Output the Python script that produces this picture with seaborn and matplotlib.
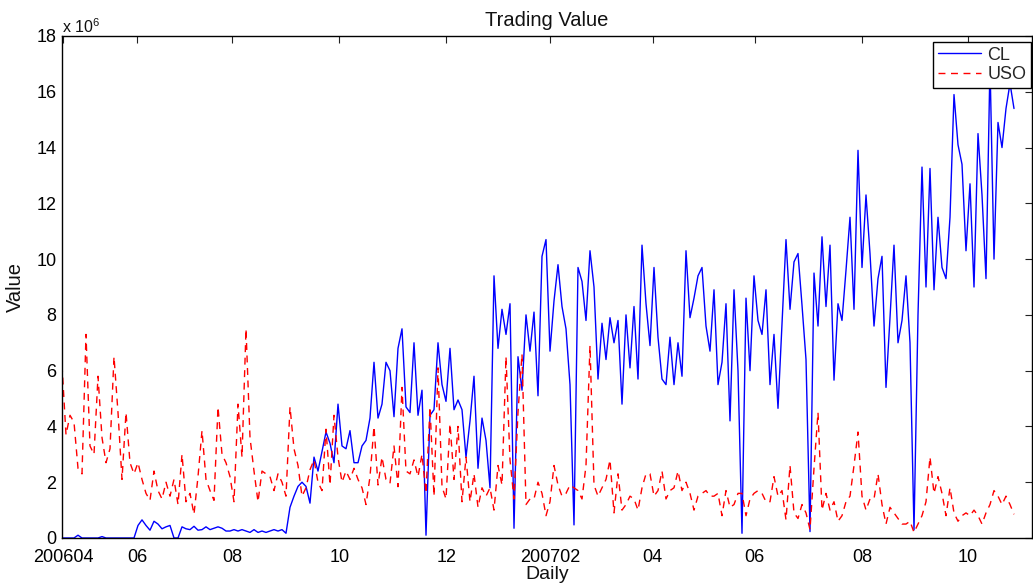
import numpy as np
import pandas as pd
import matplotlib
matplotlib.use("Agg")
import matplotlib.pyplot as plt
import seaborn as sns

# Trading value, in units of 10^6, one value per sampled trading day
cl_values = [
    0, 0, 0, 0, 0.1, 0, 0, 0, 0, 0, 0.05, 0, 0, 0, 0, 0, 0, 0, 0,
    0.45, 0.65, 0.45, 0.28, 0.6, 0.5, 0.33, 0.4, 0.45, 0.0, 0.0, 0.4, 0.33, 0.3, 0.42, 0.28, 0.3, 0.4, 0.3, 0.35, 0.4, 0.35,
    0.25, 0.25, 0.3, 0.25, 0.3, 0.25, 0.2, 0.3, 0.2, 0.25, 0.2, 0.25, 0.3, 0.25, 0.3, 0.17,
    1.1, 1.5, 1.85, 2.0, 1.85, 1.25, 2.9, 2.4, 3.1, 3.8, 3.4, 2.7, 4.8, 3.3, 3.2, 3.85, 2.7, 2.7, 3.3, 3.5, 4.3,
    6.3, 4.3, 4.8, 6.3, 6.0, 4.35, 6.8, 7.5, 4.7, 4.5, 7.0, 4.4, 5.3, 0.1, 4.4,
    4.6, 7.0, 5.5, 4.9, 6.8, 4.6, 4.95, 4.6, 2.9, 4.2, 5.8, 2.5, 4.3, 3.5, 1.8,
    9.4, 6.8, 8.2, 7.3, 8.4, 0.35, 6.5, 5.3, 8.0, 6.7, 8.1, 5.1, 10.1, 10.7, 6.7, 8.5, 9.8, 8.3, 7.5, 5.5, 0.47,
    9.7, 9.2, 7.8, 10.3, 9.0, 5.7, 7.7, 6.4, 7.9, 7.0, 7.8, 4.8, 8.0, 6.1, 8.3, 5.7, 10.5, 8.4, 6.9, 9.7, 7.2,
    5.7, 5.5, 7.2, 5.5, 7.0, 5.8, 10.3, 7.9, 8.6, 9.4, 9.7, 7.6, 6.7, 8.9, 5.5, 6.3,
    8.4, 4.2, 8.9, 6.0, 0.17, 8.6, 6.0, 9.4, 7.8, 7.3, 8.9, 5.5, 7.3, 4.65, 7.7, 10.7, 8.2, 9.9, 10.2, 8.35, 6.4, 0.23,
    9.5, 7.6, 10.8, 8.3, 10.5, 5.66, 8.4, 7.8, 9.6, 11.5, 8.2, 13.9, 9.7, 12.3, 10.2, 7.6, 9.3,
    10.1, 5.4, 7.9, 10.5, 7.0, 7.8, 9.4, 7.0, 0.29, 8.0, 13.3, 9.0, 13.25, 8.9, 11.5, 9.7, 9.3, 11.5, 15.9,
    14.1, 13.4, 10.3, 12.7, 9.0, 14.5, 12.3, 9.3, 17.0, 10.0, 14.9, 14.0, 15.4, 16.3, 15.4,
]

uso_values = [
    6.2, 3.7, 4.4, 4.15, 2.5, 2.3, 7.3, 3.3, 3.0, 5.8, 3.6, 2.7, 3.2, 6.5, 4.5, 2.1, 4.5, 2.7, 2.3, 2.7,
    2.1, 1.6, 1.35, 2.4, 1.7, 1.4, 2.0, 1.5, 2.1, 1.2, 3.0, 1.3, 1.6, 0.85, 2.2, 3.85, 2.1, 1.7, 1.35, 4.7, 3.0,
    2.7, 2.2, 1.3, 4.8, 2.9, 7.5, 3.6, 2.4, 1.3, 2.4, 2.3, 2.2, 1.7, 2.3, 2.0, 1.5, 4.7, 3.2, 2.6, 1.5,
    1.8, 2.45, 2.8, 2.0, 1.7, 3.9, 1.9, 4.4, 2.9, 2.0, 2.4, 2.1, 2.5, 2.1, 1.8, 1.2, 2.2, 4.0, 1.9, 2.9, 2.1,
    1.96, 3.3, 1.84, 5.4, 2.4, 2.3, 2.8, 2.2, 3.0, 1.6, 4.7, 1.5, 6.1, 1.84,
    1.4, 4.1, 2.1, 4.0, 1.3, 2.9, 1.3, 2.3, 1.1, 1.8, 1.5, 1.8, 1.0, 2.6, 1.9, 6.5, 2.8, 1.4, 4.5, 6.6,
    1.2, 1.4, 1.4, 2.0, 1.6, 0.8, 1.3, 2.6, 1.9,
    1.5, 1.6, 1.9, 1.8, 1.7, 1.4, 2.6, 6.9, 1.9, 1.5, 1.8, 2.1, 2.8, 0.9, 2.3, 1.0, 1.2, 1.5, 1.4, 1.0,
    1.8, 2.3, 2.3, 1.5, 1.7, 2.4, 1.4, 1.7, 1.8, 2.4, 1.7, 2.0, 1.6, 1.0, 1.5, 1.6, 1.7, 1.5, 1.5, 1.6,
    0.8, 1.7, 1.1, 1.2, 1.6, 1.6, 0.8, 1.4, 1.6, 1.7, 1.6, 1.3, 1.3, 2.2, 1.5, 1.7, 0.65, 2.6, 0.9, 0.7,
    1.2, 0.9, 0.3, 2.5, 4.5, 1.0, 1.6, 1.0, 1.3, 0.6, 0.8, 1.3, 1.5, 2.6, 3.8, 1.5, 1.0, 1.4, 1.4, 2.3,
    1.2, 0.5, 1.1, 0.9, 0.7, 0.5, 0.5, 0.6, 0.2, 0.5, 0.8, 1.3, 2.9, 1.6, 2.2, 1.6, 0.8, 1.8, 0.9, 0.6,
    0.8, 0.9, 0.8, 1.0, 0.8, 0.5, 0.9, 1.2, 1.7, 1.5, 1.2, 1.5, 1.2, 0.85,
]

series_names = ["CL", "USO"]
tick_days = [0.3, 18.75, 42.6, 69.3, 96.1, 122.0, 147.7, 173.2, 200.1, 226.4]
tick_labels = ["200604", "06", "08", "10", "12", "200702", "04", "06", "08", "10"]
y_ticks = [0, 2, 4, 6, 8, 10, 12, 14, 16, 18]

sns.set_theme(style="white")
plt.rcParams["font.family"] = ["Liberation Sans", "DejaVu Sans"]
plt.rcParams["mathtext.fontset"] = "custom"
plt.rcParams["mathtext.rm"] = "Liberation Sans"
plt.rcParams["mathtext.default"] = "regular"

days = np.arange(len(cl_values))
df = pd.DataFrame({
    "day": np.concatenate([days, np.arange(len(uso_values))]),
    "value": np.concatenate([cl_values, uso_values]),
    "series": ["CL"] * len(cl_values) + ["USO"] * len(uso_values),
})

fig = plt.figure(figsize=(10.33, 5.84), dpi=100)
ax = fig.add_axes([62 / 1033, 46 / 584, 970 / 1033, 502 / 584])

sns.lineplot(
    data=df, x="day", y="value", hue="series", style="series",
    hue_order=series_names, style_order=series_names,
    palette={"CL": "#0000FF", "USO": "#FF0000"},
    dashes={"CL": "", "USO": (5, 4)},
    estimator=None, sort=False, linewidth=1.0, legend=False, ax=ax,
)

ax.set_xlim(0, 242.5)
ax.set_ylim(0, 18)
ax.set_xticks(tick_days)
ax.set_xticklabels(tick_labels)
ax.set_yticks(y_ticks)
ax.set_yticklabels([str(v) for v in y_ticks])
ax.tick_params(direction="in", top=True, right=True, length=5, width=0.8,
               colors="#222222", labelcolor="black", labelsize=13)
ax.tick_params(axis="y", pad=4)
ax.tick_params(axis="x", pad=8)
for s in ax.spines.values():
    s.set_visible(True)
    s.set_color("black")
    s.set_linewidth(1.0)
ax.grid(False)
ax.set_facecolor("white")
fig.patch.set_facecolor("white")

ax.set_title("Trading Value", fontsize=14.5, pad=7, color="#111111")
ax.set_xlabel("Daily", fontsize=14, labelpad=0, color="#111111")
ax.set_ylabel("Value", fontsize=14.5, labelpad=8, color="#111111")
ax.text(0.0, 1.0, r"x 10$^{6}$", transform=ax.transAxes, ha="left", va="bottom",
        fontsize=11.5, color="#111111")

handles = ax.lines[:2]
leg = ax.legend(handles, series_names, loc="upper right",
                bbox_to_anchor=(0.999, 0.988), borderaxespad=0.0,
                fontsize=13, handlelength=2.4, handletextpad=0.35,
                borderpad=0.25, labelspacing=0.15, fancybox=False,
                framealpha=1.0, edgecolor="black")
leg.get_frame().set_linewidth(1.0)

fig.savefig("out.png", dpi=100)
